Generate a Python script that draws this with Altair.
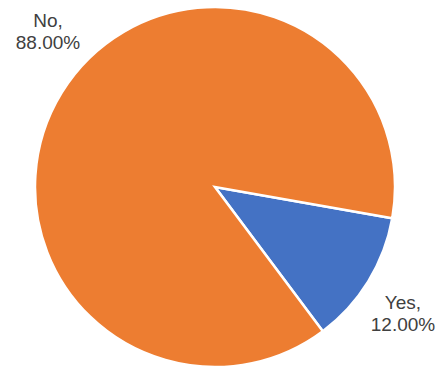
import math
import altair as alt
import pandas as pd

categories = ["Yes", "No"]
shares = [12.0, 88.0]
colors = ["#4472C4", "#ED7D31"]

df = pd.DataFrame({
    "category": categories,
    "share": shares,
    "order": list(range(len(categories))),
})
df["label"] = [f"{c},\n{v:.2f}%" for c, v in zip(categories, shares)]

start = math.radians(100)

pie = alt.Chart(df).mark_arc(
    outerRadius=180, stroke="white", strokeWidth=2.5
).encode(
    theta=alt.Theta("share:Q", stack=True,
                    scale=alt.Scale(range=[start, start + 2 * math.pi])),
    color=alt.Color("category:N",
                    scale=alt.Scale(domain=categories, range=colors),
                    legend=None),
    order=alt.Order("order:Q"),
    x=alt.value(215),
    y=alt.value(187),
)

label_pos = {"No": (48, 21), "Yes": (403, 303)}
layers = [pie]
for cat, (px, py) in label_pos.items():
    layers.append(
        alt.Chart(df).transform_filter(alt.datum.category == cat).mark_text(
            lineBreak="\n", font="Liberation Sans", fontSize=19,
            color="#404040", align="center", baseline="middle", lineHeight=22
        ).encode(
            text="label:N",
            x=alt.value(px),
            y=alt.value(py),
        )
    )

chart = alt.layer(*layers).properties(
    width=440, height=372, padding=0, autosize="none", background="white"
).configure_view(stroke=None)

chart.save("out.html", embed_options={"renderer": "svg", "actions": False})
